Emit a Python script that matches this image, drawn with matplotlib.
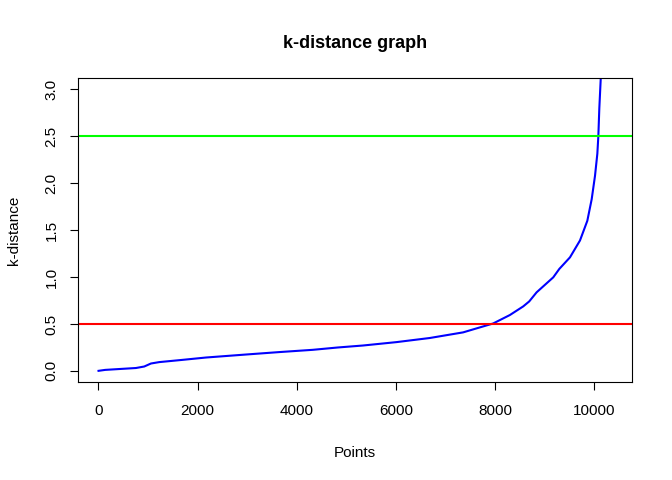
import matplotlib
matplotlib.use("Agg")
import matplotlib.pyplot as plt

plt.rcParams["font.family"] = ["Liberation Sans", "DejaVu Sans"]

# sorted k-distances (point index, distance)
points = [1, 135, 755, 923, 1058, 1226, 1697, 2170, 2978, 3650, 4323, 4828,
          5335, 6008, 6681, 7354, 7691, 7960, 8297, 8566, 8687, 8836, 9172,
          9293, 9509, 9711, 9859, 9947, 10014, 10061, 10081, 10101, 10129,
          10200, 10270, 10340]
kdist = [0.0, 0.01, 0.03, 0.046, 0.078, 0.093, 0.117, 0.142, 0.174, 0.2,
         0.224, 0.249, 0.27, 0.306, 0.35, 0.41, 0.463, 0.505, 0.595, 0.687,
         0.74, 0.837, 0.997, 1.086, 1.21, 1.39, 1.6, 1.83, 2.08, 2.315, 2.5,
         2.8, 3.11, 3.8, 4.8, 6.5]
eps_low = 0.5
eps_high = 2.5
y_ticks = [0.0, 0.5, 1.0, 1.5, 2.0, 2.5, 3.0]
x_ticks = [0, 2000, 4000, 6000, 8000, 10000]

fig = plt.figure(figsize=(6.72, 4.8), dpi=100)
ax = fig.add_axes([0.1161, 0.204, 0.8239, 0.633])

ax.plot(points, kdist, color="#0000FF", linewidth=1.5)
ax.axhline(eps_low, color="#FF0000", linewidth=1.5)
ax.axhline(eps_high, color="#00FF00", linewidth=1.5)

ax.margins(x=0.04)
ax.set_ylim(0 - 0.04 * 3, 3 + 0.04 * 3)
ax.set_xticks(x_ticks)
ax.set_xticklabels([str(t) for t in x_ticks])
ax.set_yticks(y_ticks)
ax.set_yticklabels([f"{t:.1f}" for t in y_ticks], rotation=90, va="center")

ax.tick_params(axis="both", direction="out", length=6, width=0.8,
               labelsize=11)
ax.tick_params(axis="x", pad=10)
ax.tick_params(axis="y", pad=8)
for s in ax.spines.values():
    s.set_linewidth(0.8)

ax.set_title("k-distance graph", fontsize=13, fontweight="bold", pad=22)
ax.set_xlabel("Points", fontsize=11, labelpad=20)
ax.set_ylabel("k-distance", fontsize=11, labelpad=17)

fig.savefig("out.png", dpi=100)
